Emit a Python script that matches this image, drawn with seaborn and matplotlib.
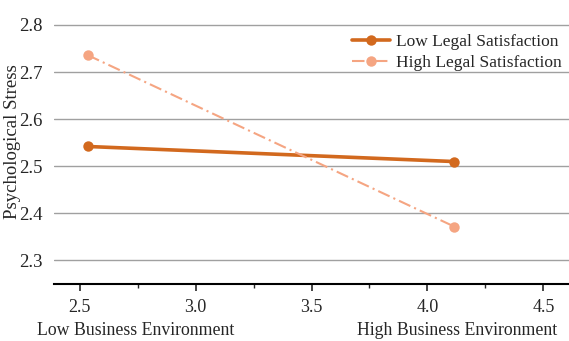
import matplotlib
matplotlib.use("Agg")
import matplotlib.pyplot as plt
import seaborn as sns
import pandas as pd
from matplotlib.ticker import MultipleLocator

# values
env_levels = [2.535, 4.115]
low_legal = [2.542, 2.510]
high_legal = [2.736, 2.372]
groups = ["Low Legal Satisfaction", "High Legal Satisfaction"]

df = pd.DataFrame({
    "env": env_levels * 2,
    "stress": low_legal + high_legal,
    "group": [groups[0]] * 2 + [groups[1]] * 2,
})

sns.set_style("white")
plt.rcParams["font.family"] = ["Liberation Serif", "DejaVu Serif"]

fig = plt.figure(figsize=(5.69, 3.41), dpi=100)
ax = fig.add_axes([54 / 569, 57 / 341, 515 / 569, 284 / 341])

palette = {groups[0]: "#D2691E", groups[1]: "#F5A582"}
sns.lineplot(data=df, x="env", y="stress", hue="group", style="group",
             palette=palette, dashes={groups[0]: "", groups[1]: (6, 2, 1, 2)},
             markers={groups[0]: "o", groups[1]: "o"}, markersize=7.5,
             markeredgewidth=0, ax=ax, legend=True)
widths = [2.6, 1.5]
for line, lw in zip(ax.lines, widths):
    line.set_linewidth(lw)

ax.set_xlim(2.39, 4.61)
ax.set_ylim(2.25, 2.853)
ax.xaxis.set_minor_locator(MultipleLocator(0.25))
ax.set_xticks([2.5, 3.0, 3.5, 4.0, 4.5])
ax.set_xticklabels(["2.5", "3.0", "3.5", "4.0", "4.5"])
ax.set_yticks([2.3, 2.4, 2.5, 2.6, 2.7, 2.8])
ax.set_yticklabels(["2.3", "2.4", "2.5", "2.6", "2.7", "2.8"])
ax.grid(axis="y", color="#A0A0A0", linewidth=1.0)
ax.set_axisbelow(True)

for s in ["top", "right", "left"]:
    ax.spines[s].set_visible(False)
ax.spines["bottom"].set_color("black")
ax.spines["bottom"].set_linewidth(1.5)
ax.tick_params(axis="x", which="major", direction="out", length=5, width=1.2,
               labelsize=13, pad=6, bottom=True)
ax.tick_params(axis="x", which="minor", direction="out", length=3, width=1.0,
               bottom=True)
ax.tick_params(axis="y", length=0, labelsize=13.5, pad=8)

ax.set_xlabel("")
ax.set_ylabel("Psychological Stress", fontsize=13.5)
ax.yaxis.set_label_coords(-0.064, 0.5)
ax.text(0.158, -0.165, "Low Business Environment", transform=ax.transAxes,
        ha="center", va="center", fontsize=12.8)
ax.text(0.782, -0.165, "High Business Environment", transform=ax.transAxes,
        ha="center", va="center", fontsize=12.8)

leg = ax.legend(loc="upper right", bbox_to_anchor=(1.0, 0.905), frameon=False,
                fontsize=12.5, handlelength=2.2, handletextpad=0.35,
                labelspacing=0.3, borderaxespad=0.0)
for h, lw in zip(leg.legend_handles, widths):
    h.set_markeredgewidth(0)
    h.set_linewidth(lw)

fig.savefig("out.png", dpi=100)
